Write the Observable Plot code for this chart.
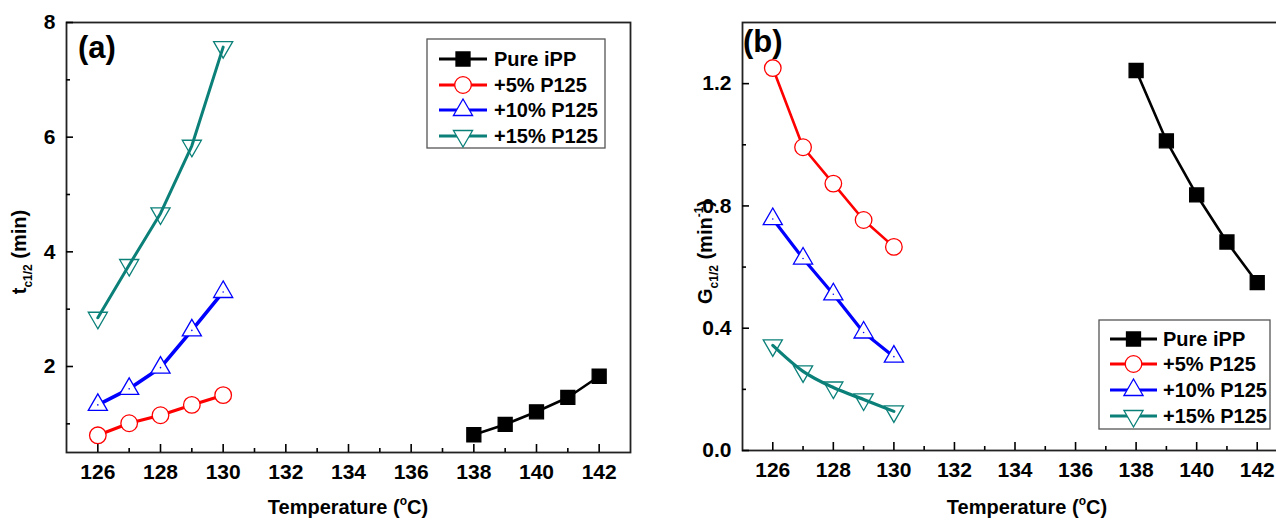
<!DOCTYPE html>
<html><head><meta charset="utf-8">
<script src="https://cdn.jsdelivr.net/npm/d3@7"></script>
<script src="https://cdn.jsdelivr.net/npm/@observablehq/plot@0.6"></script>
<style>
body{margin:0;background:#fff;}
#wrap{display:flex;width:1276px;height:522px;overflow:hidden;}
#wrap svg{overflow:hidden;flex:none;}
</style></head><body><div id="wrap"></div>
<script>
// ---- data ----
const tempsBlend = [126, 127, 128, 129, 130];
const tempsPure = [138, 139, 140, 141, 142];
const seriesNames = ["Pure iPP", "+5% P125", "+10% P125", "+15% P125"];
const seriesColors = ["#000000", "#ff0000", "#0000ff", "#0b8079"];
// (a) half-crystallization time t_c1/2 (min)
const tPure = [0.81, 0.99, 1.21, 1.46, 1.83];
const t5 = [0.80, 1.01, 1.15, 1.33, 1.50];
const t10 = [1.33, 1.61, 1.98, 2.63, 3.30];
const t15 = [2.85, 3.77, 4.67, 5.85, 7.57];
// (b) G_c1/2 (min^-1)
const gPure = [1.243, 1.013, 0.836, 0.682, 0.549];
const g5 = [1.251, 0.992, 0.873, 0.754, 0.666];
const g10 = [0.757, 0.628, 0.511, 0.386, 0.307];
const g15 = [0.344, 0.259, 0.206, 0.167, 0.128];
// ticks
const xMajor = [126, 128, 130, 132, 134, 136, 138, 140, 142];
const xMinor = [127, 129, 131, 133, 135, 137, 139, 141];
const yMajorA = [2, 4, 6, 8];
const yMinorA = [1, 3, 5, 7];
const yMajorB = [0, 0.4, 0.8, 1.2];
const yMinorB = [0.2, 0.6, 1.0];

const FONT = "'Liberation Sans', Arial, Helvetica, sans-serif";
const downTriangle = {
  draw(ctx, size) {
    const y = -Math.sqrt(size / (Math.sqrt(3) * 3));
    ctx.moveTo(0, -2 * y);
    ctx.lineTo(-Math.sqrt(3) * y, y);
    ctx.lineTo(Math.sqrt(3) * y, y);
    ctx.closePath();
  }
};
const symbolSpecs = [
  {symbol: "square", r: 7.9, fill: seriesColors[0], d3sym: d3.symbolSquare},
  {symbol: "circle", r: 8.3, fill: "white", d3sym: d3.symbolCircle},
  {symbol: "triangle", r: 7.1, fill: "white", d3sym: d3.symbolTriangle},
  {symbol: downTriangle, r: 7.1, fill: "none", d3sym: downTriangle}
];

function rows(xs, ys) { return xs.map((x, i) => ({x, y: ys[i]})); }

function seriesMarks(sets, widths, curves) {
  const marks = [];
  sets.forEach((data, i) => {
    marks.push(Plot.line(data, {x: "x", y: "y", stroke: seriesColors[i], strokeWidth: widths[i], curve: curves[i]}));
  });
  sets.forEach((data, i) => {
    const s = symbolSpecs[i];
    marks.push(Plot.dot(data, {x: "x", y: "y", symbol: s.symbol, r: s.r, fill: s.fill, stroke: seriesColors[i], strokeWidth: 1.3}));
    if (i === 2) marks.push(Plot.dot(data, {x: "x", y: "y", r: 0.8, fill: seriesColors[i]}));
  });
  return marks;
}

function axisMarks(yMajor, yMinor, yFmt) {
  return [
    Plot.axisX(xMajor, {tickSize: -8, tickPadding: 20, tickFormat: d => String(d), strokeWidth: 1.6, label: null}),
    Plot.axisX(xMinor, {tickSize: -4, tickFormat: () => "", strokeWidth: 1.6, label: null}),
    Plot.axisY(yMajor, {tickSize: -7, tickPadding: 18, tickFormat: yFmt, strokeWidth: 1.6, label: null}),
    Plot.axisY(yMinor, {tickSize: -4, tickFormat: () => "", strokeWidth: 1.6, label: null})
  ];
}

const style = {fontFamily: FONT, fontSize: "20px", fontWeight: "bold", color: "#000", background: "white", overflow: "hidden"};

const plotA = Plot.plot({
  width: 638, height: 522,
  marginLeft: 66, marginRight: 8, marginTop: 22, marginBottom: 70,
  x: {domain: [125, 143]},
  y: {domain: [0.5, 8]},
  style,
  marks: [
    Plot.frame({stroke: "#222", strokeWidth: 1.8}),
    ...axisMarks(yMajorA, yMinorA, d => String(d)),
    ...seriesMarks([rows(tempsPure, tPure), rows(tempsBlend, t5), rows(tempsBlend, t10), rows(tempsBlend, t15)],
      [2.6, 3.2, 3.6, 3], ["linear", "linear", "linear", "linear"])
  ]
});

const plotB = Plot.plot({
  width: 638, height: 522,
  marginLeft: 104, marginRight: -11, marginTop: 22, marginBottom: 72,
  x: {domain: [125, 143]},
  y: {domain: [0, 1.4]},
  style,
  marks: [
    Plot.frame({stroke: "#222", strokeWidth: 1.8}),
    ...axisMarks(yMajorB, yMinorB, d3.format(".1f")),
    ...seriesMarks([rows(tempsPure, gPure), rows(tempsBlend, g5), rows(tempsBlend, g10), rows(tempsBlend, g15)],
      [2.6, 2.6, 3.2, 3.2], ["linear", "linear", "linear", "monotone-x"])
  ]
});

const wrap = document.getElementById("wrap");
wrap.appendChild(plotA);
wrap.appendChild(plotB);

// enlarge tick labels (Origin-style bold numbers)
[plotA, plotB].forEach(p => {
  p.querySelectorAll("text").forEach(el => {
    el.setAttribute("font-size", "21");
    el.style.setProperty("font-size", "21px", "important");
    el.style.setProperty("font-weight", "bold", "important");
  });
  p.querySelectorAll("g").forEach(el => { if (el.hasAttribute("font-size")) el.setAttribute("font-size", "21"); });
});

function addRich(svg, x, y, parts, size, rotate) {
  const t = d3.select(svg).append("text")
    .attr("text-anchor", "middle")
    .attr("font-family", FONT).attr("font-weight", "bold")
    .attr("font-size", size).attr("fill", "#000")
    .attr("transform", `translate(${x},${y})` + (rotate ? ` rotate(${rotate})` : ""));
  let shift = 0;
  parts.forEach(p => {
    const target = p.sub ? 6 : p.sup ? -9 : 0;
    t.append("tspan").attr("dy", target - shift)
      .attr("font-size", p.sub || p.sup ? Math.round(size * 0.6) : size)
      .text(p.t);
    shift = target;
  });
  return t;
}

function legend(svg, box, lineX1, lineX2, textX, rowYs) {
  const g = d3.select(svg).append("g");
  g.append("rect").attr("x", box[0]).attr("y", box[1]).attr("width", box[2]).attr("height", box[3])
    .attr("fill", "white").attr("stroke", "#555").attr("stroke-width", 1.3);
  seriesNames.forEach((name, i) => {
    const y = rowYs[i];
    const s = symbolSpecs[i];
    g.append("line").attr("x1", lineX1).attr("x2", lineX2).attr("y1", y).attr("y2", y)
      .attr("stroke", seriesColors[i]).attr("stroke-width", 3);
    g.append("path").attr("d", d3.symbol(s.d3sym, s.r * s.r * Math.PI)())
      .attr("transform", `translate(${(lineX1 + lineX2) / 2},${y})`)
      .attr("fill", i === 3 ? "white" : s.fill).attr("stroke", seriesColors[i]).attr("stroke-width", 1.3);
    g.append("text").attr("x", textX).attr("y", y).attr("dy", "0.36em")
      .attr("text-anchor", "start")
      .attr("font-family", FONT).attr("font-weight", "bold").attr("font-size", 20)
      .attr("fill", "#000").text(name);
  });
}

// panel (a) texts
d3.select(plotA).append("text").attr("x", 78).attr("y", 58).attr("text-anchor", "start").attr("font-family", FONT)
  .attr("font-weight", "bold").attr("font-size", 31).text("(a)");
addRich(plotA, 26, 252, [{t: "t"}, {t: "c1/2", sub: true}, {t: " (min)"}], 20, -90);
addRich(plotA, 348, 514, [{t: "Temperature ("}, {t: "o", sup: true}, {t: "C)"}], 20, 0);
legend(plotA, [427, 39, 178, 109], 439, 487, 494, [59, 85, 110, 136]);

// panel (b) texts
d3.select(plotB).append("text").attr("x", 105).attr("y", 52).attr("text-anchor", "start").attr("font-family", FONT)
  .attr("font-weight", "bold").attr("font-size", 31).text("(b)");
addRich(plotB, 74, 252, [{t: "G"}, {t: "c1/2", sub: true}, {t: " (min"}, {t: "-1", sup: true}, {t: ")"}], 20, -90);
addRich(plotB, 389, 514, [{t: "Temperature ("}, {t: "o", sup: true}, {t: "C)"}], 20, 0);
legend(plotB, [461, 320, 171, 109], 472, 519, 525, [339, 364, 390, 416]);
</script></body></html>
